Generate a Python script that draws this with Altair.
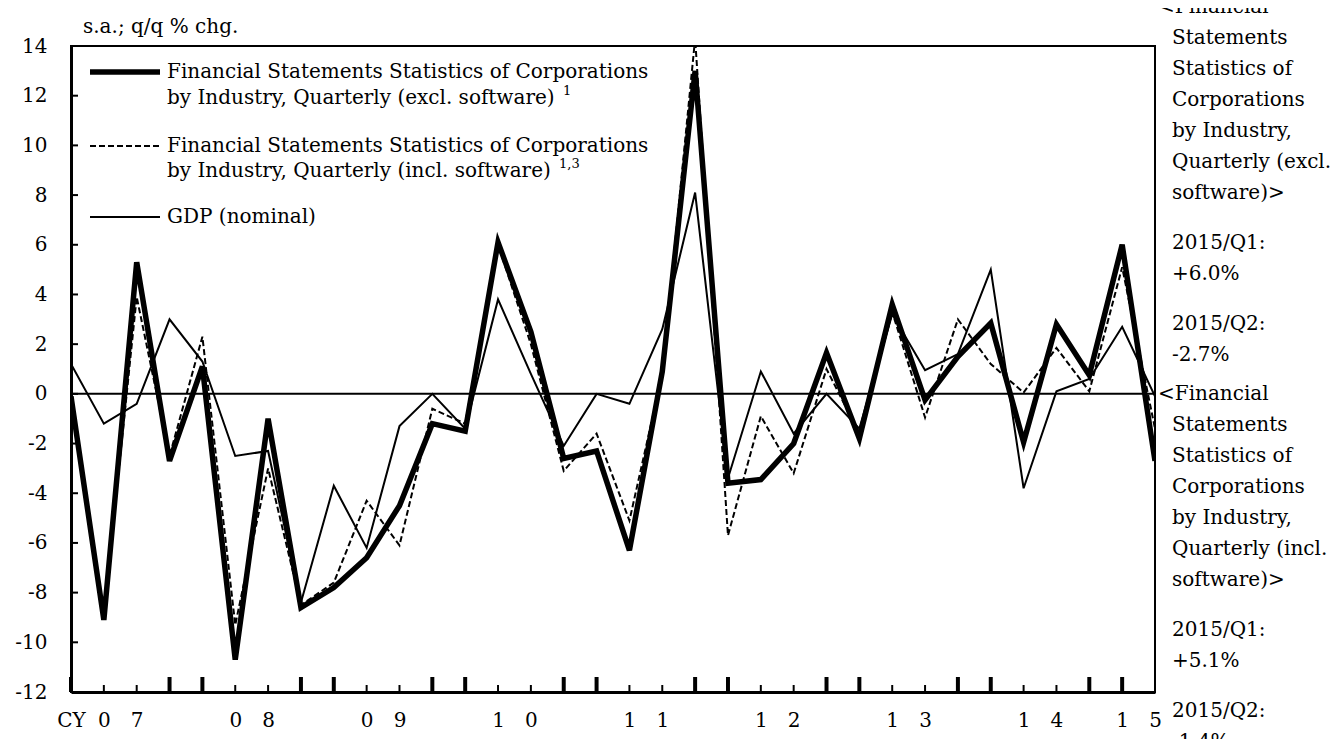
import altair as alt
import pandas as pd

FONT = "DejaVu Serif"
FS = 20

quarters = ["2007Q1", "2007Q2", "2007Q3", "2007Q4", "2008Q1", "2008Q2", "2008Q3", "2008Q4",
            "2009Q1", "2009Q2", "2009Q3", "2009Q4", "2010Q1", "2010Q2", "2010Q3", "2010Q4",
            "2011Q1", "2011Q2", "2011Q3", "2011Q4", "2012Q1", "2012Q2", "2012Q3", "2012Q4",
            "2013Q1", "2013Q2", "2013Q3", "2013Q4", "2014Q1", "2014Q2", "2014Q3", "2014Q4",
            "2015Q1", "2015Q2"]
tick_chars = ["CY", "0", "7", "", "", "0", "8", "", "", "0", "9", "", "", "1", "0", "",
              "", "1", "1", "", "", "1", "2", "", "", "1", "3", "", "", "1", "4", "",
              "1", "5"]
fss_excl = [-0.1, -9.1, 5.3, -2.7, 1.1, -10.7, -1.0, -8.6, -7.8, -6.6, -4.5, -1.2, -1.5, 6.1,
            2.5, -2.6, -2.3, -6.3, 0.9, 13.0, -3.6, -3.45, -2.0, 1.65, -1.8, 3.6, -0.25, 1.5,
            2.85, -1.95, 2.8, 0.75, 6.0, -2.7]
fss_incl = [-0.2, -8.9, 3.9, -2.5, 2.3, -9.3, -3.0, -8.5, -7.6, -4.3, -6.1, -0.6, -1.2, 6.0,
            2.0, -3.1, -1.6, -5.1, 0.8, 14.3, -5.7, -0.9, -3.2, 1.0, -1.6, 3.3, -0.95, 3.0,
            1.2, 0.05, 1.85, 0.1, 5.1, -1.4]
gdp_nominal = [1.2, -1.2, -0.4, 3.0, 1.3, -2.5, -2.3, -8.4, -3.7, -6.2, -1.3, 0.0, -1.4, 3.8,
               0.8, -2.1, 0.0, -0.4, 2.6, 8.1, -3.4, 0.9, -1.6, 0.0, -1.4, 3.2, 0.95, 1.6,
               5.0, -3.8, 0.1, 0.6, 2.7, -0.1]
y_ticks = [-12, -10, -8, -6, -4, -2, 0, 2, 4, 6, 8, 10, 12, 14]

legend_excl = ["Financial Statements Statistics of Corporations",
               "by Industry, Quarterly (excl. software)"]
legend_incl = ["Financial Statements Statistics of Corporations",
               "by Industry, Quarterly (incl. software)"]
legend_gdp = "GDP (nominal)"
note_excl = "1"
note_incl = "1,3"
unit_label = "s.a.; q/q % chg."

anno_excl_head = ["<Financial", "Statements", "Statistics of", "Corporations",
                  "by Industry,", "Quarterly (excl.", "software)>"]
anno_excl_vals = ["2015/Q1:", "+6.0%", "2015/Q2:", "-2.7%"]
anno_incl_head = ["<Financial", "Statements", "Statistics of", "Corporations",
                  "by Industry,", "Quarterly (incl.", "software)>"]
anno_incl_vals = ["2015/Q1:", "+5.1%", "2015/Q2:", "-1.4%"]

n = len(quarters)
assert len(fss_excl) == n and len(fss_incl) == n and len(gdp_nominal) == n and len(tick_chars) == n

W, H = 1084, 646

xs = alt.Scale(domain=[0, n - 1], nice=False, zero=False)
ys = alt.Scale(domain=[-12, 14], nice=False, zero=False)

label_expr = "[" + ",".join("'" + c + "'" for c in tick_chars) + "][datum.value]"

x_axis = alt.Axis(values=list(range(n)), labelExpr=label_expr, ticks=False, tickSize=0,
                  grid=False, domainWidth=3, domainColor="black", labelFont=FONT,
                  labelFontSize=FS, labelColor="black", labelPadding=28,
                  labelBaseline="middle", labelFlush=False, labelOverlap=False,
                  labelBound=False, labelAngle=0, title=None)
y_axis = alt.Axis(values=y_ticks, labelExpr="'' + datum.value", ticks=False, tickSize=0,
                  grid=False, domainWidth=3, domainColor="black", labelFont=FONT,
                  labelFontSize=FS, labelColor="black", labelPadding=24,
                  labelFlush=False, labelOverlap=False, title=None)

X = alt.X("idx:Q", scale=xs, axis=x_axis)
Y = alt.Y("value:Q", scale=ys, axis=y_axis)

idx = list(range(n))
df_excl = pd.DataFrame({"idx": idx, "value": fss_excl})
df_incl = pd.DataFrame({"idx": idx, "value": fss_incl})
df_gdp = pd.DataFrame({"idx": idx, "value": gdp_nominal})
one = pd.DataFrame({"a": [0]})

zero_rule = alt.Chart(pd.DataFrame({"value": [0]})).mark_rule(
    color="black", strokeWidth=2).encode(y=Y)

gdp_line = alt.Chart(df_gdp).mark_line(color="black", strokeWidth=2, clip=True).encode(
    x=X, y=Y)
excl_line = alt.Chart(df_excl).mark_line(color="black", strokeWidth=5.5, clip=True,
                                         strokeJoin="miter").encode(x=X, y=Y)
incl_line = alt.Chart(df_incl).mark_line(color="black", strokeWidth=2, strokeDash=[6, 3],
                                         clip=True).encode(x=X, y=Y)

# inward x ticks: long at Q1/Q4, short at Q2/Q3
big_idx = [i for i, q in enumerate(quarters) if q.endswith("Q1") or q.endswith("Q4")]
small_idx = [i for i, q in enumerate(quarters) if (q.endswith("Q2") or q.endswith("Q3")) and i < n - 1]
big_ticks = alt.Chart(pd.DataFrame({"idx": big_idx})).mark_rule(
    color="black", strokeWidth=4).encode(x=X, y=alt.value(H), y2=alt.value(H - 15))
small_ticks = alt.Chart(pd.DataFrame({"idx": small_idx})).mark_rule(
    color="black", strokeWidth=2).encode(x=X, y=alt.value(H), y2=alt.value(H - 7))
yt = [v for v in y_ticks if -12 < v < 14]
y_tick_marks = alt.Chart(pd.DataFrame({"value": yt})).mark_rule(
    color="black", strokeWidth=2).encode(y=Y, x=alt.value(0), x2=alt.value(7))


def txt(text, x, y, size=FS, align="left", baseline="middle"):
    return alt.Chart(one).mark_text(font=FONT, fontSize=size, color="black", align=align,
                                    baseline=baseline).encode(
        x=alt.value(x), y=alt.value(y), text=alt.value(text))


def sample(y, width, dash=None):
    kw = dict(color="black", strokeWidth=width)
    if dash:
        kw["strokeDash"] = dash
    return alt.Chart(one).mark_rule(**kw).encode(x=alt.value(19), x2=alt.value(89),
                                                  y=alt.value(y))


layers = [zero_rule, gdp_line, excl_line, incl_line, big_ticks, small_ticks, y_tick_marks]

# legend (drawn inside the plot, top-left)
layers += [sample(26, 5.5), sample(100, 2, [6, 3]), sample(171, 2)]
layers += [txt(legend_excl[0], 96, 26), txt(legend_excl[1], 96, 52),
           txt(note_excl, 492, 45, size=13),
           txt(legend_incl[0], 96, 100), txt(legend_incl[1], 96, 125),
           txt(note_incl, 488, 118, size=13),
           txt(legend_gdp, 96, 171)]

# unit label
layers.append(txt(unit_label, 12, -19))

# right-hand annotations
LH = 31
GAP = 50


def block(head, vals, y0):
    out = []
    for k, line in enumerate(head):
        out.append(txt(line, W + 3 if k == 0 else W + 17, y0 + k * LH))
    yb = y0 + (len(head) - 1) * LH + GAP
    out.append(txt(vals[0], W + 17, yb))
    out.append(txt(vals[1], W + 17, yb + LH))
    out.append(txt(vals[2], W + 17, yb + LH + GAP))
    out.append(txt(vals[3], W + 17, yb + 2 * LH + GAP))
    return out


layers += block(anno_excl_head, anno_excl_vals, -39)
layers += block(anno_incl_head, anno_incl_vals, 348)

chart = alt.layer(*layers).properties(
    width=W, height=H,
    padding={"left": 63, "top": 38, "right": 181, "bottom": 47},
    autosize=alt.AutoSizeParams(type="none"),
    background="white",
).configure_view(stroke="black", strokeWidth=2)

chart.save("out.html", embed_options={"renderer": "svg", "actions": False})
